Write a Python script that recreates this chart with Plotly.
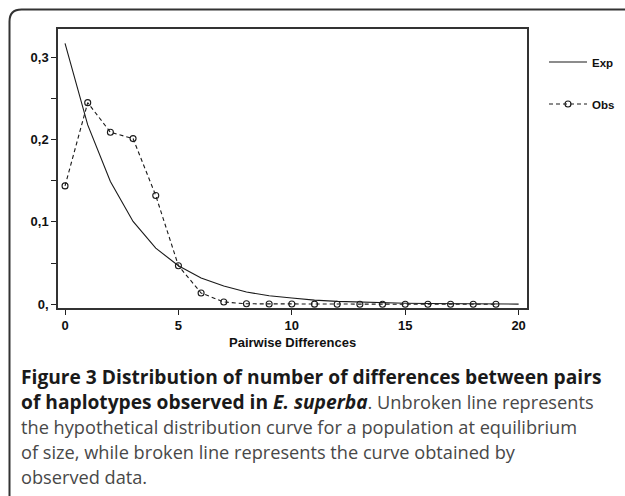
import plotly.graph_objects as go

# ---- data ----
diffs_exp = list(range(0, 21))
exp_freq = [0.3166, 0.2176, 0.149, 0.1004, 0.068, 0.0467, 0.0317, 0.0222, 0.0148, 0.0103,
            0.0075, 0.005, 0.0035, 0.0024, 0.0016, 0.0011, 0.0008, 0.0005, 0.0003, 0.0002, 0.0001]
diffs_obs = list(range(0, 20))
obs_freq = [0.1436, 0.2446, 0.2087, 0.201, 0.1319, 0.0467, 0.0136, 0.0027, 0.0005, 0.0003,
            0.0002, 0.0001, 0.0, 0.0, 0.0, 0.0, 0.0, 0.0, 0.0, 0.0]
x_ticks = [0, 5, 10, 15, 20]
y_ticks = [0, 0.05, 0.1, 0.15, 0.2, 0.25, 0.3]
y_ticktext = ["0,", "", "0,1", "", "0,2", "", "0,3"]
x_title = "Pairwise Differences"
series_names = ["Exp", "Obs"]

B1 = '<span style="font-size:19.2px;fill:#1a1a1a"><b>'
B1e = '</b></span>'
caption_lines = [
    f"{B1}Figure 3 Distribution of number of differences between pairs{B1e}",
    f"{B1}of haplotypes observed in <i>E. superba</i>{B1e}. Unbroken line represents",
    "the hypothetical distribution curve for a population at equilibrium",
    "of size, while broken line represents the curve obtained by",
    "observed data.",
]

W, H = 625, 496
L, R, T, B = 58, 527, 29, 308.5
PW, PH = R - L, B - T


def px(x):
    return (x - L) / PW


def py(y):
    return (B - y) / PH


fig = go.Figure()
fig.add_trace(go.Scatter(
    x=diffs_exp, y=exp_freq, mode="lines", name=series_names[0],
    line=dict(color="#1a1a1a", width=1.1), legend="legend"))
fig.add_trace(go.Scatter(
    x=diffs_obs, y=obs_freq, mode="lines+markers", name=series_names[1],
    line=dict(color="#1a1a1a", width=1.1, dash="4px,3px"),
    marker=dict(symbol="circle-open", size=6, color="#1a1a1a", line=dict(width=1.1)),
    legend="legend2"))

axis_common = dict(showline=True, mirror=True, linecolor="#333", linewidth=1.5,
                   ticks="outside", ticklen=5, tickcolor="#222", tickwidth=1,
                   showgrid=False, zeroline=False,
                   tickfont=dict(family="Liberation Sans, Arial", size=13, color="#111", weight="bold"))

fig.update_xaxes(range=[-0.31, 20.37], tickvals=x_ticks, ticktext=[str(v) for v in x_ticks], **axis_common)
fig.update_yaxes(range=[-0.0046, 0.334], tickvals=y_ticks, ticktext=y_ticktext, **axis_common)

legend_font = dict(family="Liberation Sans, Arial", size=11.5, color="#111", weight="bold")
leg_common = dict(xref="container", yref="container", xanchor="left", yanchor="middle",
                  font=legend_font, bgcolor="rgba(0,0,0,0)", borderwidth=0, itemwidth=38)
fig.update_layout(
    width=W, height=H,
    margin=dict(l=L, r=W - R, t=T, b=H - B, autoexpand=False),
    paper_bgcolor="white", plot_bgcolor="white",
    showlegend=True,
    legend=dict(x=544 / W, y=1 - 62 / H, **leg_common),
    legend2=dict(x=544 / W, y=1 - 104 / H, **leg_common),
)

# outer frame with rounded top-left corner
fx0, fy0 = px(9.5), py(9.5)
rdx, rdy = 12 / PW, 12 / PH
fig.add_shape(type="path", xref="paper", yref="paper",
              path=f"M {fx0},{py(510)} L {fx0},{fy0 - rdy} Q {fx0},{fy0} {fx0 + rdx},{fy0} L {px(640)},{fy0}",
              line=dict(color="#333", width=2))

fig.add_annotation(xref="paper", yref="paper", x=px(292), y=py(343), text=f"<b>{x_title}</b>",
                   showarrow=False, xanchor="center", yanchor="middle",
                   font=dict(family="Liberation Sans, Arial", size=13, color="#111"))

caption_y = [377, 402, 428, 453, 478]
for line, yy in zip(caption_lines, caption_y):
    fig.add_annotation(xref="paper", yref="paper", x=px(19), y=py(yy), text=line,
                       showarrow=False, xanchor="left", yanchor="middle",
                       font=dict(family="Open Sans", size=18.2, color="#484848"))

fig.write_html("out.html", config={"displayModeBar": False},
               post_script="document.body.style.margin='0';")
